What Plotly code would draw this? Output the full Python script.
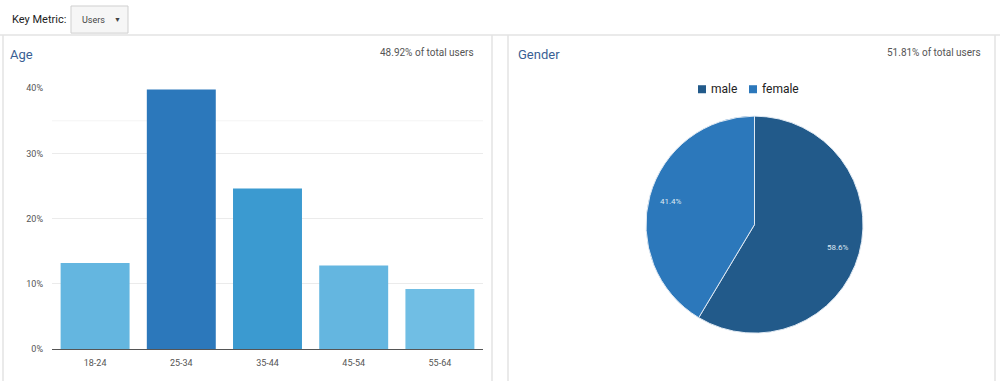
import math
import plotly.graph_objects as go

age_groups = ["18-24", "25-34", "35-44", "45-54", "55-64"]
age_share = [13.2, 39.8, 24.6, 12.8, 9.2]
age_colors = ["#64b6e0", "#2c78bb", "#3b9ad0", "#64b6e0", "#70bee4"]
y_ticks = [0, 10, 20, 30, 40]
y_tick_labels = ["0%", "10%", "20%", "30%", "40%"]

genders = ["male", "female"]
gender_share = [58.6, 41.4]
gender_colors = ["#225a8a", "#2c78bb"]

font = "Roboto, Arial, sans-serif"
W, H = 1000, 381

# vertical correction measured from the first render
Y_OFF, Y_SCALE = 5.0, 0.971

def py(px):
    return 1 - ((px - Y_OFF) / Y_SCALE) / H

def pxx(px):
    return px / W

fig = go.Figure()

fig.add_trace(go.Bar(
    x=age_groups, y=age_share,
    marker=dict(color=age_colors, line=dict(width=0)),
    showlegend=False, xaxis="x", yaxis="y",
    hoverinfo="x+y",
))

# pie geometry (pixels)
PIE_CX, PIE_CY, PIE_R = 754.5, 224.0, 108.5
fig.add_trace(go.Pie(
    labels=genders, values=gender_share,
    marker=dict(colors=gender_colors, line=dict(color="#dfe9f3", width=1)),
    sort=False, direction="clockwise", rotation=0,
    textinfo="none",
    domain=dict(x=[pxx(PIE_CX - PIE_R), pxx(PIE_CX + PIE_R)],
                y=[py(PIE_CY + PIE_R), py(PIE_CY - PIE_R)]),
    showlegend=False,
))

border = "#e3e3e3"
shapes = [
    dict(type="line", xref="paper", yref="paper", x0=0, x1=1, y0=py(35), y1=py(35),
         line=dict(color=border, width=1.5)),
    dict(type="line", xref="paper", yref="paper", x0=pxx(3), x1=pxx(3), y0=py(385), y1=py(35),
         line=dict(color=border, width=1.5)),
    dict(type="line", xref="paper", yref="paper", x0=pxx(492), x1=pxx(492), y0=py(385), y1=py(35),
         line=dict(color=border, width=1.5)),
    dict(type="line", xref="paper", yref="paper", x0=pxx(508), x1=pxx(508), y0=py(385), y1=py(35),
         line=dict(color=border, width=1.5)),
    dict(type="line", xref="paper", yref="paper", x0=pxx(995), x1=pxx(995), y0=py(385), y1=py(35),
         line=dict(color=border, width=1.5)),
    dict(type="rect", xref="paper", yref="paper", x0=pxx(71), x1=pxx(128), y0=py(33), y1=py(6),
         line=dict(color="#cfcfcf", width=1), fillcolor="#f6f6f6"),
    dict(type="line", xref="x domain", yref="y", x0=0, x1=1, y0=35, y1=35,
         line=dict(color="#f4f4f4", width=1), layer="below"),
]

annotations = [
    dict(text="Key Metric:", x=pxx(10), y=py(19), xref="paper", yref="paper",
         xanchor="left", yanchor="middle", showarrow=False,
         font=dict(size=11, color="#222", family=font)),
    dict(text="Users", x=pxx(80), y=py(19.5), xref="paper", yref="paper",
         xanchor="left", yanchor="middle", showarrow=False,
         font=dict(size=9, color="#444", family=font)),
    dict(text="▼", x=pxx(117), y=py(19.5), xref="paper", yref="paper",
         xanchor="center", yanchor="middle", showarrow=False,
         font=dict(size=7, color="#444", family=font)),
    dict(text="Age", x=pxx(8), y=py(54), xref="paper", yref="paper",
         xanchor="left", yanchor="middle", showarrow=False,
         font=dict(size=13, color="#3a5f94", family=font)),
    dict(text="48.92% of total users", x=pxx(476), y=py(52), xref="paper", yref="paper",
         xanchor="right", yanchor="middle", showarrow=False,
         font=dict(size=10, color="#555", family=font)),
    dict(text="Gender", x=pxx(516), y=py(54), xref="paper", yref="paper",
         xanchor="left", yanchor="middle", showarrow=False,
         font=dict(size=13, color="#3a5f94", family=font)),
    dict(text="51.81% of total users", x=pxx(983), y=py(52), xref="paper", yref="paper",
         xanchor="right", yanchor="middle", showarrow=False,
         font=dict(size=10, color="#555", family=font)),
]

# legend (custom, compact)
legend_x = [698, 749]
for name, col, lx in zip(genders, gender_colors, legend_x):
    shapes.append(dict(type="rect", xref="paper", yref="paper",
                       x0=pxx(lx), x1=pxx(lx + 8), y0=py(93), y1=py(85),
                       line=dict(width=0), fillcolor=col))
    annotations.append(dict(text=name, x=pxx(lx + 11), y=py(89), xref="paper", yref="paper",
                            xanchor="left", yanchor="middle", showarrow=False,
                            font=dict(size=12, color="#222", family=font)))

# slice percentage labels at 0.8 of the radius, middle angle of each slice
total = sum(gender_share)
cum = 0.0
for v in gender_share:
    mid = (cum + v / 2) / total * 2 * math.pi
    cum += v
    tx = PIE_CX + 0.8 * PIE_R * math.sin(mid)
    ty = PIE_CY - 0.8 * PIE_R * math.cos(mid)
    annotations.append(dict(text=f"{v / total * 100:.1f}%", x=pxx(tx), y=py(ty),
                            xref="paper", yref="paper", xanchor="center", yanchor="middle",
                            showarrow=False, font=dict(size=8, color="#dfe8f2", family=font)))

fig.update_layout(
    width=W, height=H,
    margin=dict(l=0, r=0, t=0, b=0),
    paper_bgcolor="white", plot_bgcolor="white",
    font=dict(family=font),
    bargap=0.2,
    showlegend=False,
    xaxis=dict(domain=[pxx(52), pxx(483)], showline=True, linecolor="#555", linewidth=1,
               ticks="", tickfont=dict(size=9, color="#555"), showgrid=False,
               ticklabelstandoff=5, fixedrange=True),
    yaxis=dict(domain=[py(348), py(88)], range=[0, 40], tickvals=y_ticks,
               ticktext=y_tick_labels, tickfont=dict(size=9, color="#555"),
               gridcolor="#ebebeb", gridwidth=1, zeroline=False, ticks="",
               ticklabelstandoff=8, fixedrange=True),
    shapes=shapes,
    annotations=annotations,
)

fig.write_html("out.html")
